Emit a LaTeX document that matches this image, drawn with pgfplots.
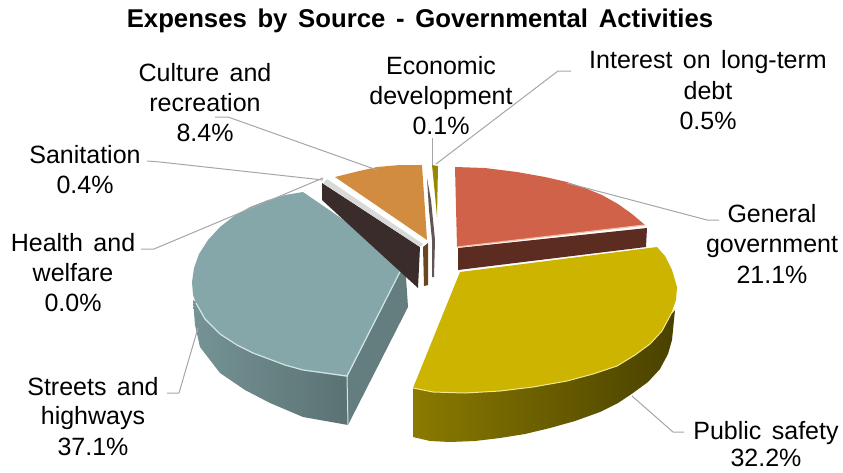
\documentclass[border=0pt]{standalone}
\usepackage{pgfplots}
\pgfplotsset{compat=1.18}
\usepackage{fontspec}
\setmainfont[WordSpace=1.5]{Liberation Sans}
\definecolor{leader}{HTML}{A6A6A6}
\definecolor{teal}{HTML}{85A7A9}
\definecolor{tealedge}{HTML}{D4E4E4}
\definecolor{mustard}{HTML}{CCB400}
\definecolor{mustardedge}{HTML}{F2E88C}
\definecolor{brick}{HTML}{CF6248}
\definecolor{brickedge}{HTML}{F6BDA8}
\definecolor{ochre}{HTML}{D28C3F}
\definecolor{darkface}{HTML}{3A2C2A}
\tikzset{lbl/.style={anchor=base, align=center, font=\fontsize{25}{30}\selectfont, text=black}}
\begin{document}
\begin{tikzpicture}
\path[use as bounding box] (0,0) rectangle (843pt,472pt);
\begin{axis}[
  at={(0,0)}, anchor=south west, scale only axis,
  width=843pt, height=472pt,
  xmin=0, xmax=843, ymin=0, ymax=472, y dir=reverse,
  hide axis, clip=false,
  every axis plot/.append style={forget plot, no markers, line join=round},
]
% Streets and highways: curved wall, cut face, top
\addplot[draw=none, left color=teal!88!black, right color=teal!68!black] coordinates {
 (193,300)(195,325)(200,347)(220,373)(245,390)(270,403)(303,417)(348,425)(347,376)(303,370)(253,353)(220,333)(197,303)} --cycle;
\addplot[draw=none, fill=teal!75!black] coordinates {(347,377)(405,262)(408,307)(348,425)} --cycle;
\addplot[draw=none, fill=teal] coordinates {
 (405,262)(303,192)(285,195)(268,200)(250,207)(234,216)(220,227)(208,240)(199,254)(194,268)(192,282)(193,295)(197,306)(205,320)(220,334)(237,345)(253,353)(285,365)(303,370)(347,377)} --cycle;
\addplot[color=tealedge, line width=1.2pt] coordinates {(196,303)(205,319)(220,334)(237,345)(253,353)(285,365)(303,370)(347,376)(405,262)};
\addplot[color=tealedge, line width=1pt] coordinates {(347,376)(348,425)};
% Sanitation, health and welfare: thin dark faces behind the street wedge
\addplot[draw=none, fill=darkface] coordinates {(322,183)(322,200)(418,288)(420,247)} --cycle;
\addplot[draw=none, fill=gray!30!white] coordinates {(327,179)(323,183)(420,247)(423,244)} --cycle;
% Culture and recreation
\addplot[draw=none, fill=ochre!50!black] coordinates {(423,247)(428,243)(428,285)(424,286)} --cycle;
\addplot[draw=none, fill=ochre] coordinates {
 (335,177)(355,172)(377,167)(400,165)(422,165)(427,240)} --cycle;
% Economic development and interest slivers
\addplot[draw=none, fill=darkface!80!white] coordinates {(427,178)(431,200)(435,240)(434,277)(432,277)(432,240)(429,210)} --cycle;
\addplot[draw=none, fill=mustard!75!black] coordinates {(432,165)(438,166)(437,217)(435,195)} --cycle;
% General government
\addplot[draw=none, fill=brick!45!black] coordinates {(458,248)(647,228)(646,247)(458,270)} --cycle;
\addplot[draw=none, fill=brick] coordinates {
 (455,167)(485,168)(517,172)(545,177)(567,182)(585,188)(602,195)(618,204)(632,214)(645,225)(457,247)} --cycle;
\addplot[color=brickedge, line width=1.2pt] coordinates {(457,247)(645,225)};
% Public safety
\addplot[draw=none, left color=mustard!68!black, right color=mustard!36!black] coordinates {
 (413,388)(413,437)(430,441)(450,442)(475,441)(500,438)(525,434)(550,428)(575,421)(600,412)(618,403)(633,393)(648,382)(660,369)(668,354)(672,340)(675,310)(671,314)(662,331)(650,344)(635,355)(617,366)(593,374)(567,381)(533,387)(500,391)(465,393)(433,392)} --cycle;
\addplot[draw=none, fill=mustard] coordinates {
 (460,272)(657,247)(665,256)(672,270)(677,287)(676,300)(671,314)(662,331)(650,344)(635,355)(617,366)(593,374)(567,381)(533,387)(500,391)(465,393)(433,392)(413,388)} --cycle;
\addplot[color=mustardedge, line width=1pt] coordinates {(675,309)(671,314)(662,331)(650,344)(635,355)(617,366)(593,374)(567,381)(533,387)(500,391)(465,393)(433,392)(413,388)};
% Leader lines
\addplot[color=leader, line width=1pt] coordinates {(215,117)(228,117)(377,170)};
\addplot[color=leader, line width=1pt] coordinates {(432,138)(432,165)};
\addplot[color=leader, line width=1pt] coordinates {(571,71)(558,71)(436,164)};
\addplot[color=leader, line width=1pt] coordinates {(147,161)(160,162)(323,180)};
\addplot[color=leader, line width=1pt] coordinates {(141,249)(154,249)(323,178)};
\addplot[color=leader, line width=1pt] coordinates {(167,393)(179,393)(198,328)};
\addplot[color=leader, line width=1pt] coordinates {(719,220)(707,220)(567,183)};
\addplot[color=leader, line width=1pt] coordinates {(684,432)(673,432)(632,396)};
% Title and data labels
\node[anchor=base, font=\fontsize{25.7}{30}\bfseries\selectfont] at (axis cs:420,27) {Expenses by Source - Governmental Activities};
\node[lbl] at (axis cs:205,81) {Culture and};
\node[lbl] at (axis cs:205,111) {recreation};
\node[lbl] at (axis cs:205,141) {8.4\%};
\node[lbl] at (axis cs:441,74) {Economic};
\node[lbl] at (axis cs:441,104) {development};
\node[lbl] at (axis cs:441,134) {0.1\%};
\node[lbl] at (axis cs:708,68) {Interest on long-term};
\node[lbl] at (axis cs:708,99) {debt};
\node[lbl] at (axis cs:708,129) {0.5\%};
\node[lbl] at (axis cs:85,163) {Sanitation};
\node[lbl] at (axis cs:85,193) {0.4\%};
\node[lbl] at (axis cs:73,251) {Health and};
\node[lbl] at (axis cs:73,281) {welfare};
\node[lbl] at (axis cs:73,311) {0.0\%};
\node[lbl] at (axis cs:93,395) {Streets and};
\node[lbl] at (axis cs:93,424) {highways};
\node[lbl] at (axis cs:93,455) {37.1\%};
\node[lbl] at (axis cs:772,222) {General};
\node[lbl] at (axis cs:772,252) {government};
\node[lbl] at (axis cs:772,283) {21.1\%};
\node[lbl] at (axis cs:766,439) {Public safety};
\node[lbl] at (axis cs:766,466) {32.2\%};
\end{axis}
\end{tikzpicture}
\end{document}
